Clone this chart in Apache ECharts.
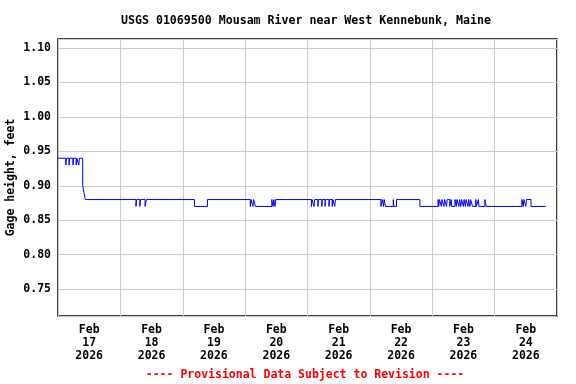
<!DOCTYPE html>
<html>
<head>
<meta charset="utf-8">
<script src="https://cdn.jsdelivr.net/npm/echarts@6/dist/echarts.min.js"></script>
<style>html,body{margin:0;padding:0;background:#fff}#c{width:576px;height:384px}</style>
</head>
<body>
<div id="c"></div>
<script>
const titleText = 'USGS 01069500 Mousam River near West Kennebunk, Maine';
const yName = 'Gage height, feet';
const footText = '---- Provisional Data Subject to Revision ----';
const startTime = '2026-02-17 00:00';
const endTime = '2026-02-25 00:00';
const dayLabels = ['Feb\n17\n2026','Feb\n18\n2026','Feb\n19\n2026','Feb\n20\n2026','Feb\n21\n2026','Feb\n22\n2026','Feb\n23\n2026','Feb\n24\n2026'];

// change points of the stage record (value holds until next point)
const times = [
 '2026-02-17 00:00','2026-02-17 03:00','2026-02-17 03:15','2026-02-17 04:15','2026-02-17 04:30',
 '2026-02-17 05:45','2026-02-17 06:00','2026-02-17 07:00','2026-02-17 07:15','2026-02-17 08:00',
 '2026-02-17 08:15','2026-02-17 09:30','2026-02-17 10:00','2026-02-17 10:30',
 '2026-02-18 06:00','2026-02-18 06:15','2026-02-18 07:30','2026-02-18 07:45','2026-02-18 09:30','2026-02-18 10:00',
 '2026-02-19 04:30','2026-02-19 09:30',
 '2026-02-20 02:00','2026-02-20 02:15','2026-02-20 03:00','2026-02-20 03:15','2026-02-20 04:00',
 '2026-02-20 10:15','2026-02-20 10:45','2026-02-20 11:00','2026-02-20 11:30','2026-02-20 11:45',
 '2026-02-21 01:30','2026-02-21 01:45','2026-02-21 02:30','2026-02-21 02:45','2026-02-21 04:00','2026-02-21 04:15',
 '2026-02-21 05:30','2026-02-21 05:45','2026-02-21 06:45','2026-02-21 07:00','2026-02-21 08:15','2026-02-21 08:30',
 '2026-02-21 09:30','2026-02-21 09:45','2026-02-21 10:30','2026-02-21 10:45',
 '2026-02-22 04:15','2026-02-22 04:45','2026-02-22 05:15','2026-02-22 05:30','2026-02-22 06:00',
 '2026-02-22 09:00','2026-02-22 09:15','2026-02-22 10:15','2026-02-22 19:15',
 '2026-02-23 02:15','2026-02-23 02:30','2026-02-23 02:45','2026-02-23 03:30','2026-02-23 03:45','2026-02-23 04:30',
 '2026-02-23 04:45','2026-02-23 05:30','2026-02-23 05:45','2026-02-23 06:45','2026-02-23 07:15','2026-02-23 07:30',
 '2026-02-23 08:45','2026-02-23 09:15','2026-02-23 09:30','2026-02-23 10:15','2026-02-23 10:30','2026-02-23 11:00',
 '2026-02-23 11:15','2026-02-23 12:00','2026-02-23 12:15','2026-02-23 12:45','2026-02-23 13:00','2026-02-23 13:45',
 '2026-02-23 14:00','2026-02-23 14:30','2026-02-23 14:45','2026-02-23 15:30','2026-02-23 16:45','2026-02-23 17:00',
 '2026-02-23 17:45','2026-02-23 18:00','2026-02-23 20:15','2026-02-23 20:45',
 '2026-02-24 10:30','2026-02-24 11:00','2026-02-24 11:15','2026-02-24 12:00','2026-02-24 12:15','2026-02-24 14:00',
 '2026-02-24 19:45'
];
const values = [
 0.94,0.93,0.94,0.93,0.94,
 0.93,0.94,0.93,0.94,0.93,
 0.94,0.90,0.89,0.88,
 0.87,0.88,0.87,0.88,0.87,0.88,
 0.87,0.88,
 0.87,0.88,0.87,0.88,0.87,
 0.88,0.87,0.88,0.87,0.88,
 0.87,0.88,0.87,0.88,0.87,0.88,
 0.87,0.88,0.87,0.88,0.87,0.88,
 0.87,0.88,0.87,0.88,
 0.87,0.88,0.87,0.88,0.87,
 0.88,0.87,0.88,0.87,
 0.88,0.87,0.88,0.87,0.88,0.87,
 0.88,0.87,0.88,0.87,0.88,0.87,
 0.88,0.87,0.88,0.87,0.88,0.87,
 0.88,0.87,0.88,0.87,0.88,0.87,
 0.88,0.87,0.88,0.87,0.88,0.87,
 0.88,0.87,0.88,0.87,
 0.88,0.87,0.88,0.87,0.88,0.87,
 0.87
];

const toMs = s => new Date(s.replace(' ', 'T')).getTime();
const t0 = toMs(startTime);
const hoursOf = s => (toMs(s) - t0) / 3600000;
const seriesData = times.map((t, i) => [hoursOf(t), values[i]]);

const font = 'DejaVu Sans Mono';
const chart = echarts.init(document.getElementById('c'), null, {renderer: 'canvas'});
chart.setOption({
  animation: false,
  backgroundColor: '#fff',
  title: {
    text: titleText, left: 121, top: 14, padding: 0,
    textStyle: {fontFamily: font, fontWeight: 'bold', fontSize: 11.6, lineHeight: 14, color: '#000'}
  },
  grid: {left: 58, right: 19, top: 39, bottom: 68, show: true, borderColor: '#000', borderWidth: 1.5,
    containLabel: false, outerBoundsMode: 'none'},
  xAxis: [{
    type: 'value', min: 0, max: hoursOf(endTime), interval: 24,
    axisLine: {show: false}, axisTick: {show: false}, axisLabel: {show: false},
    splitLine: {show: true, lineStyle: {color: '#cccccc', width: 1}}
  }, {
    type: 'category', data: dayLabels, boundaryGap: true, position: 'bottom',
    axisLine: {show: false}, axisTick: {show: false}, splitLine: {show: false},
    axisLabel: {margin: 8, fontFamily: font, fontWeight: 'bold', fontSize: 11.5, lineHeight: 13, color: '#000', interval: 0}
  }],
  yAxis: {
    type: 'value', min: 0.711, max: 1.113, splitNumber: 8,
    name: yName, nameLocation: 'middle', nameRotate: 90, nameGap: 41, nameMoveOverlap: false,
    nameTextStyle: {fontFamily: font, fontWeight: 'bold', fontSize: 11.5, color: '#000'},
    axisLine: {show: false}, axisTick: {show: false},
    axisLabel: {showMinLabel: false, showMaxLabel: false, margin: 7, fontFamily: font, fontWeight: 'bold', fontSize: 11.5, color: '#000',
      formatter: v => v.toFixed(2)},
    splitLine: {show: true, lineStyle: {color: '#cccccc', width: 1}}
  },
  graphic: [{
    type: 'text', x: 305, y: 375,
    style: {text: footText, fill: '#ff0000', font: 'bold 11.5px "DejaVu Sans Mono"', textAlign: 'center', textVerticalAlign: 'middle'}
  }],
  series: [{
    type: 'line', xAxisIndex: 0, data: seriesData, step: 'end', showSymbol: false,
    lineStyle: {color: '#0000ff', width: 1}, silent: true
  }]
});
</script>
</body>
</html>
